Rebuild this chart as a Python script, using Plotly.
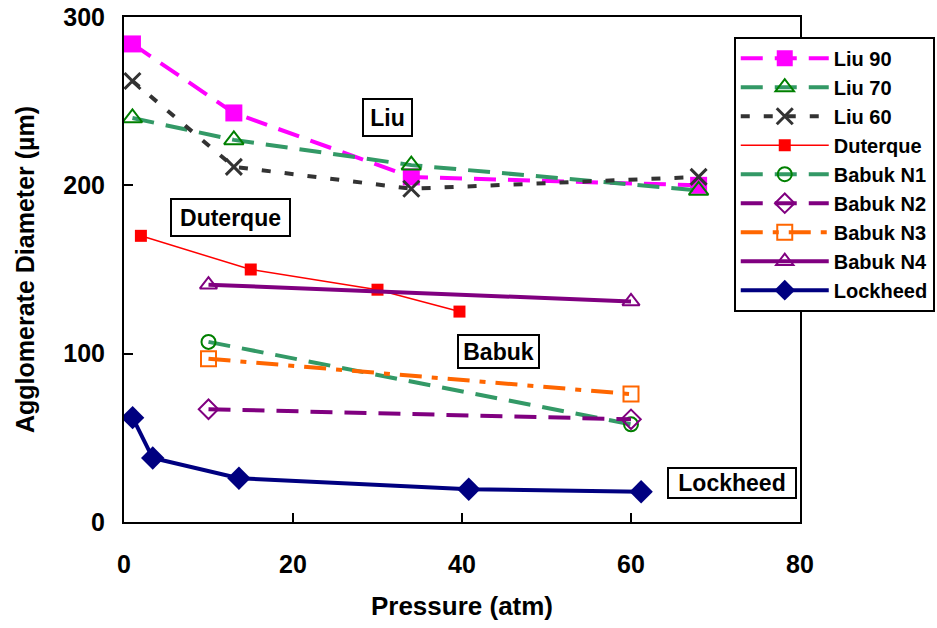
import plotly.graph_objects as go

# Data
liu_x = [1, 13, 34, 68]
liu90_y = [284, 243, 205, 200]
liu70_y = [240, 227, 212, 197]
liu60_y = [262, 211, 198, 205]

duterque_x = [2, 15, 30, 39.7]
duterque_y = [170, 150, 138, 125]

babuk_x = [10, 60]
babuk_n1_y = [107, 58]
babuk_n2_y = [67, 61]
babuk_n3_y = [97, 76]
babuk_n4_y = [141, 131]

lockheed_x = [1.02, 3.4, 13.6, 40.8, 61.2]
lockheed_y = [62, 38, 26, 19.5, 18]

x_ticks = [0, 20, 40, 60, 80]
y_ticks = [0, 100, 200, 300]

# label text, x, y, box width, box height
labels = [("Liu", 31.2, 240.3, 43, 31), ("Duterque", 12.6, 180.9, 113, 31),
          ("Babuk", 44.3, 101.2, 75, 27), ("Lockheed", 72.0, 23.2, 122, 24)]

FONT = "Liberation Sans, Arial, sans-serif"

fig = go.Figure()

def add(name, x, y, color, dash, width, symbol, msize, mcolor, mline=2):
    fig.add_trace(go.Scatter(
        x=x, y=y, name=name, mode="lines+markers",
        line=dict(color=color, dash=dash, width=width),
        marker=dict(symbol=symbol, size=msize, color=mcolor,
                    line=dict(color=mcolor, width=mline)),
        legendgroup=name,
    ))

add("Liu 90", liu_x, liu90_y, "#FF00FF", "22px,12px", 4, "square", 17, "#FF00FF", 0)
add("Liu 70", liu_x, liu70_y, "#339966", "22px,12px", 4, "triangle-up-open", 17, "#008000")
add("Liu 60", liu_x, liu60_y, "#333333", "9px,14px", 4, "x-thin-open", 16, "#333333", 3)
add("Duterque", duterque_x, duterque_y, "#FF0000", "solid", 1.5, "square", 12, "#FF0000", 0)
add("Babuk N1", babuk_x, babuk_n1_y, "#339966", "22px,12px", 4, "circle-open", 14, "#008000")
add("Babuk N2", babuk_x, babuk_n2_y, "#800080", "22px,12px", 4, "diamond-open", 15, "#800080")
add("Babuk N3", babuk_x, babuk_n3_y, "#FF6600", "22px,10px,6px,10px", 4, "square-open", 15, "#FF6600")
add("Babuk N4", babuk_x, babuk_n4_y, "#800080", "solid", 4, "triangle-up-open", 15, "#800080")
add("Lockheed", lockheed_x, lockheed_y, "#000080", "solid", 4, "diamond", 18, "#000080", 0)

for text, ax, ay, w, h in labels:
    fig.add_annotation(x=ax, y=ay, text="<b>%s</b>" % text, showarrow=False,
                       font=dict(family=FONT, size=23, color="black"),
                       width=w, height=h, align="center", valign="middle",
                       bordercolor="black", borderwidth=2, borderpad=2,
                       bgcolor="white")

axis_common = dict(
    showline=True, linecolor="black", linewidth=2, mirror=True,
    ticks="inside", ticklen=9, tickwidth=2, tickcolor="black",
    showgrid=False, zeroline=False, automargin=False,
    tickfont=dict(family=FONT, size=25, color="black", weight="bold"),
)

fig.update_layout(
    width=937, height=628,
    margin=dict(l=124, r=137, t=17, b=106, autoexpand=False),
    paper_bgcolor="white", plot_bgcolor="white",
    font=dict(family=FONT, color="black"),
    xaxis=dict(range=[0, 80], tickvals=x_ticks, ticktext=[str(v) for v in x_ticks],
               ticklabelstandoff=19,
               title=dict(text="<b>Pressure (atm)</b>", font=dict(family=FONT, size=26), standoff=20),
               **axis_common),
    yaxis=dict(range=[0, 300], tickvals=y_ticks, ticktext=[str(v) for v in y_ticks],
               ticklabelstandoff=12,
               title=dict(text="<b>Agglomerate Diameter (µm)</b>", font=dict(family=FONT, size=25), standoff=22),
               **axis_common),
    legend=dict(x=0.902, y=0.961, xanchor="left", yanchor="top",
                bgcolor="white", bordercolor="black", borderwidth=2,
                font=dict(family=FONT, size=20, color="black", weight="bold"),
                itemwidth=88, tracegroupgap=0),
    showlegend=True,
)

fig.write_html("out.html")
